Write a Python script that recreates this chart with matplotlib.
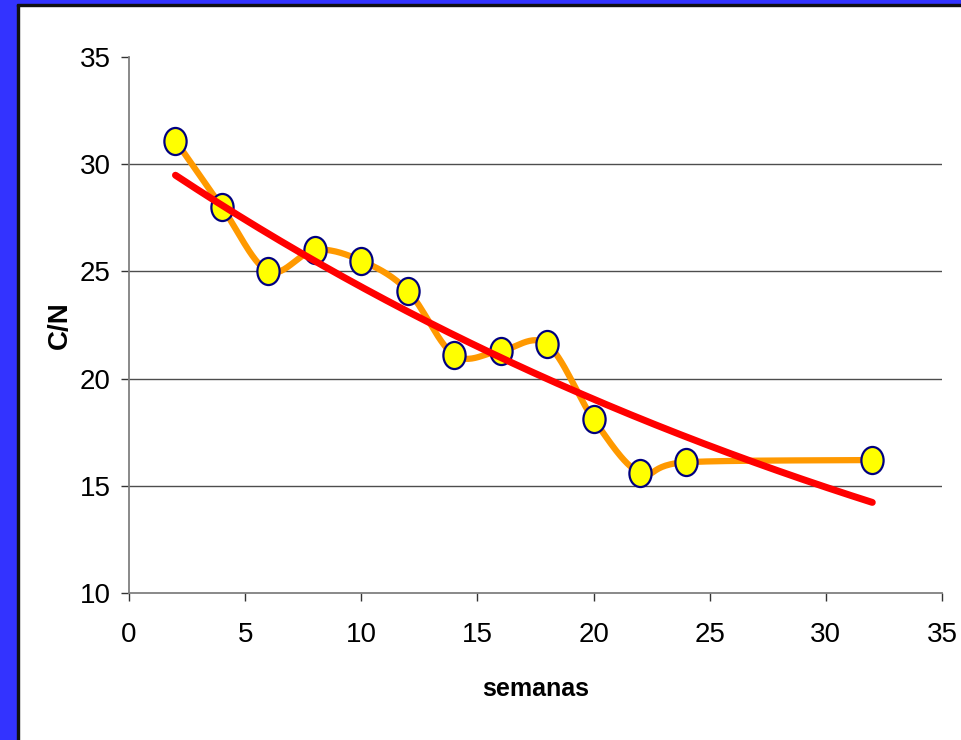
import numpy as np
import matplotlib
matplotlib.use("Agg")
import matplotlib.pyplot as plt
from matplotlib.path import Path
from matplotlib.transforms import Affine2D
from matplotlib.patches import Rectangle

# data
semanas = [2, 4, 6, 8, 10, 12, 14, 16, 18, 20, 22, 24, 32]
cn = [31.1, 28.0, 25.0, 26.0, 25.5, 24.1, 21.1, 21.3, 21.6, 18.1, 15.6, 16.1, 16.2]
xticks = [0, 5, 10, 15, 20, 25, 30, 35]
yticks = [10, 15, 20, 25, 30, 35]

FONT = "Liberation Sans"


def smooth_curve(xs, ys, n=30):
    # catmull-rom style bezier, like excel "smoothed line"
    p = np.column_stack([xs, ys]).astype(float)
    pts = []
    for i in range(len(p) - 1):
        p0 = p[max(i - 1, 0)]
        p1 = p[i]
        p2 = p[i + 1]
        p3 = p[min(i + 2, len(p) - 1)]
        c1 = p1 + (p2 - p0) / 6.0
        c2 = p2 - (p3 - p1) / 6.0
        t = np.linspace(0, 1, n)[:, None]
        seg = ((1 - t) ** 3) * p1 + 3 * ((1 - t) ** 2) * t * c1 + 3 * (1 - t) * t ** 2 * c2 + t ** 3 * p2
        pts.append(seg if i == 0 else seg[1:])
    pts = np.vstack(pts)
    return pts[:, 0], pts[:, 1]


fig = plt.figure(figsize=(9.62, 7.40), dpi=100)
fig.patch.set_facecolor("white")

# blue frame left and top
W, H = 962, 740
fig.patches.append(Rectangle((0, 0), 17 / W, 1, transform=fig.transFigure, color="#3333FF", zorder=0))
fig.patches.append(Rectangle((17 / W, 0), 2 / W, (H - 4) / H, transform=fig.transFigure, color="#111111", zorder=0))
fig.patches.append(Rectangle((0, (H - 4) / H), 1, 4 / H, transform=fig.transFigure, color="#3333FF", zorder=0))
fig.patches.append(Rectangle((17 / W, (H - 6) / H), 1, 2 / H, transform=fig.transFigure, color="#111111", zorder=0))

ax = fig.add_axes([129 / W, (H - 593) / H, (942 - 129) / W, (593 - 57) / H])
ax.set_xlim(0, 35)
ax.set_ylim(10, 35)

for yv in yticks[1:-1]:
    ax.axhline(yv, color="#4d4d4d", lw=1.0, zorder=1)

sx, sy = smooth_curve(semanas, cn)
ax.plot(sx, sy, color="#FF9900", lw=4.5, solid_capstyle="round", zorder=2)

# tall ellipse marker
ell = Path.unit_circle().transformed(Affine2D().scale(0.82, 1.0))
ax.plot(semanas, cn, linestyle="none", marker=ell, markersize=19.5,
        markerfacecolor="#FFFF00", markeredgecolor="#000080", markeredgewidth=1.6, zorder=3)

# exponential trend line
b, a = np.polyfit(semanas, np.log(cn), 1)
tx = np.linspace(semanas[0], semanas[-1], 200)
ax.plot(tx, np.exp(a + b * tx), color="#FF0000", lw=5, solid_capstyle="round", zorder=4)

for s in ["top", "right"]:
    ax.spines[s].set_visible(False)
for s in ["left", "bottom"]:
    ax.spines[s].set_color("#808080")
    ax.spines[s].set_linewidth(1.3)

ax.set_xticks(xticks)
ax.set_yticks(yticks)
ax.tick_params(axis="both", direction="out", length=6, width=1.0, color="#333333")
ax.tick_params(axis="x", pad=15)
ax.tick_params(axis="y", pad=7)
for lab in ax.get_xticklabels() + ax.get_yticklabels():
    lab.set_fontfamily(FONT)
    lab.set_fontsize(20)

fig.text(536 / W, 1 - 689 / H, "semanas", ha="center", va="center",
         fontfamily=FONT, fontweight="bold", fontsize=18)
fig.text(60 / W, 1 - 325 / H, "C/N", ha="center", va="center", rotation=90,
         fontfamily=FONT, fontweight="bold", fontsize=20)

fig.savefig("out.png", dpi=100)
